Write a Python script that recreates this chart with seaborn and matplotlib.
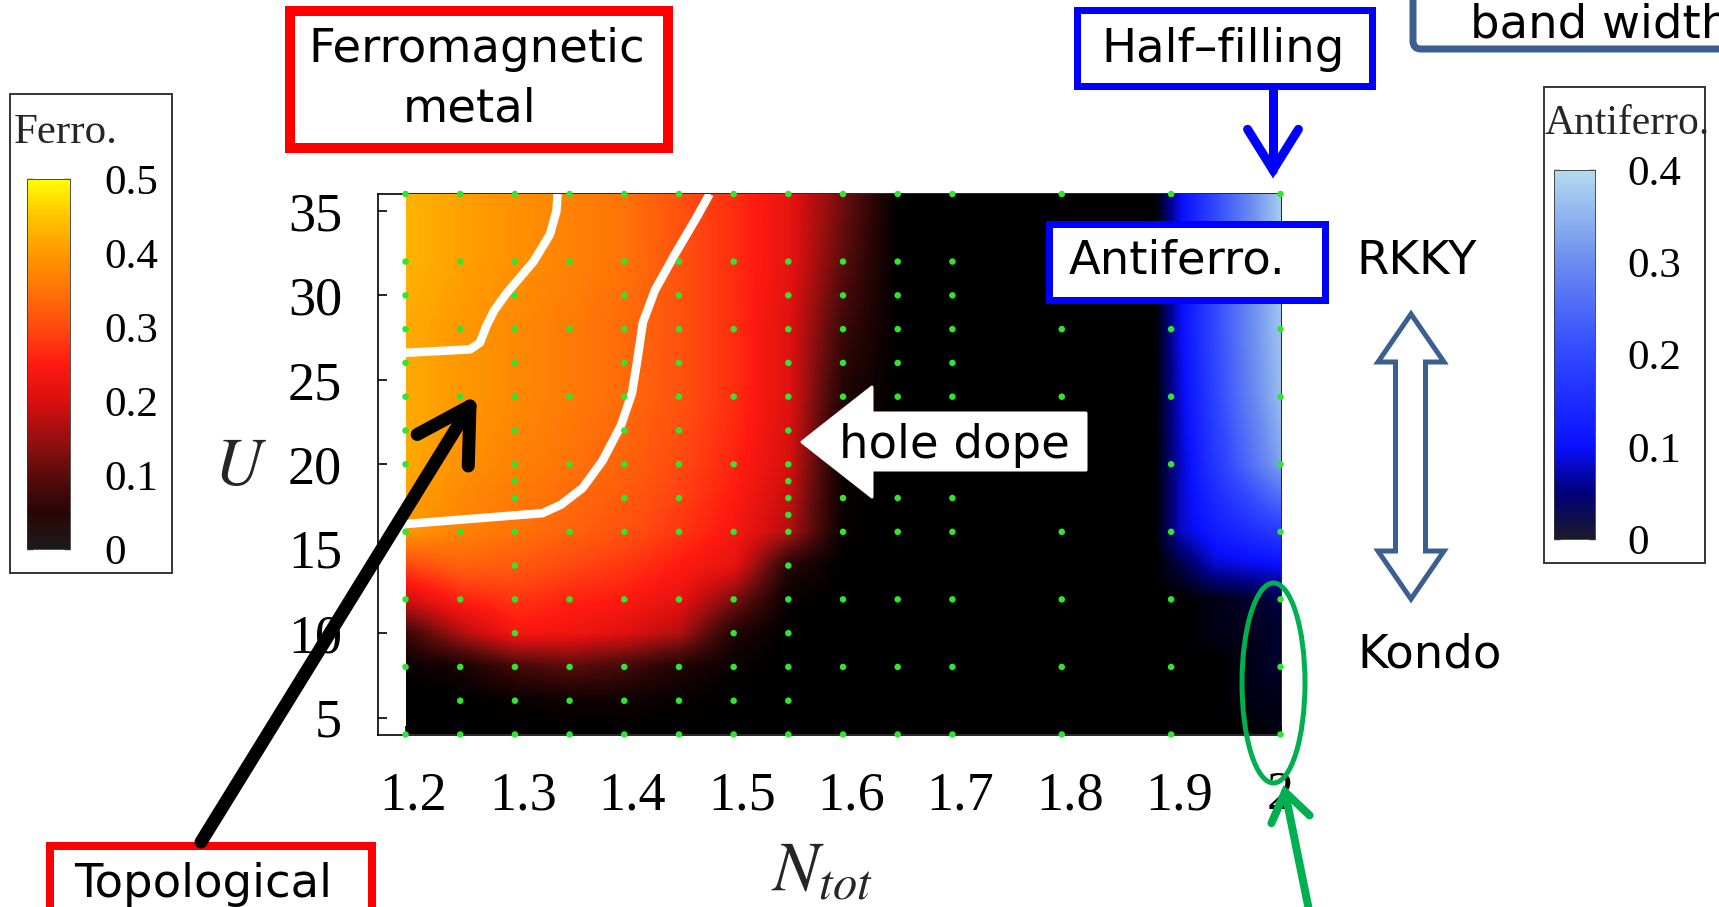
import numpy as np
import pandas as pd
import matplotlib
matplotlib.use("Agg")
import matplotlib.pyplot as plt
import matplotlib.transforms as mtransforms
from matplotlib.colors import LinearSegmentedColormap, Normalize
from matplotlib.cm import ScalarMappable
from matplotlib.patches import Rectangle, Polygon, Ellipse, FancyBboxPatch
from matplotlib.lines import Line2D
import seaborn as sns

# ---------------- phase-diagram data ----------------
# ferromagnetic moment on an (N_tot, U) table
n_ferro = [1.2, 1.25, 1.3, 1.35, 1.4, 1.45, 1.5, 1.55, 1.6, 1.65]
u_levels = [4, 6, 8, 10, 12, 14, 16, 20, 24, 28, 32, 36]
ferro_moment = [
    [0.00, 0.00, 0.00, 0.00, 0.00, 0.00, 0.00, 0.00, 0.00, 0.0],   # U=4
    [0.00, 0.00, 0.01, 0.02, 0.02, 0.01, 0.00, 0.00, 0.00, 0.0],   # U=6
    [0.01, 0.03, 0.08, 0.10, 0.08, 0.04, 0.01, 0.00, 0.00, 0.0],   # U=8
    [0.07, 0.17, 0.24, 0.23, 0.21, 0.17, 0.04, 0.00, 0.00, 0.0],   # U=10
    [0.20, 0.26, 0.28, 0.26, 0.25, 0.22, 0.13, 0.01, 0.00, 0.0],   # U=12
    [0.30, 0.33, 0.32, 0.30, 0.28, 0.25, 0.22, 0.05, 0.00, 0.0],   # U=14
    [0.40, 0.37, 0.35, 0.33, 0.31, 0.28, 0.24, 0.17, 0.01, 0.0],   # U=16
    [0.42, 0.39, 0.37, 0.35, 0.33, 0.30, 0.26, 0.20, 0.01, 0.0],   # U=20
    [0.42, 0.40, 0.38, 0.36, 0.34, 0.31, 0.27, 0.21, 0.04, 0.0],   # U=24
    [0.42, 0.40, 0.38, 0.36, 0.34, 0.31, 0.27, 0.21, 0.07, 0.0],   # U=28
    [0.43, 0.41, 0.39, 0.37, 0.35, 0.31, 0.27, 0.22, 0.10, 0.0],   # U=32
    [0.43, 0.41, 0.39, 0.37, 0.35, 0.31, 0.27, 0.22, 0.12, 0.0],   # U=36
]

# antiferromagnetic moment near half filling
n_antiferro = [1.885, 1.91, 1.94, 1.97, 2.0]
antiferro_moment = [
    [0.0, 0.00, 0.00, 0.00, 0.01],   # U=4
    [0.0, 0.00, 0.00, 0.01, 0.01],   # U=6
    [0.0, 0.00, 0.00, 0.01, 0.02],   # U=8
    [0.0, 0.00, 0.01, 0.01, 0.02],   # U=10
    [0.0, 0.00, 0.01, 0.02, 0.03],   # U=12
    [0.0, 0.03, 0.08, 0.09, 0.10],   # U=14
    [0.0, 0.08, 0.12, 0.15, 0.18],   # U=16
    [0.0, 0.08, 0.17, 0.25, 0.33],   # U=20
    [0.0, 0.09, 0.19, 0.28, 0.36],   # U=24
    [0.0, 0.10, 0.20, 0.29, 0.37],   # U=28
    [0.0, 0.10, 0.20, 0.29, 0.38],   # U=32
    [0.0, 0.10, 0.20, 0.29, 0.38],   # U=36
]

# computed parameter points
dot_columns = [1.2, 1.25, 1.3, 1.35, 1.4, 1.45, 1.5, 1.55, 1.6, 1.65, 1.7, 1.8, 1.9, 2.0]
dot_u = [
    [4, 8, 12, 16, 20, 22, 24, 26, 28, 30, 32, 36],
    [4, 6, 8, 12, 16, 24, 28, 32, 36],
    [4, 6, 8, 10, 12, 14, 16, 18, 19, 20, 22, 24, 26, 28, 30, 32, 36],
    [4, 6, 8, 12, 16, 20, 24, 28, 32, 36],
    [4, 6, 8, 12, 16, 18, 20, 22, 24, 26, 28, 30, 32, 36],
    [4, 6, 8, 12, 16, 18, 20, 22, 24, 26, 28, 30, 32, 36],
    [4, 6, 8, 10, 12, 16, 20, 24, 28, 32, 36],
    [4, 6, 8, 10, 12, 14, 16, 17, 18, 19, 20, 22, 24, 26, 28, 30, 32, 36],
    [4, 8, 12, 16, 18, 20, 24, 26, 28, 30, 32, 36],
    [4, 8, 12, 16, 18, 20, 24, 26, 28, 30, 32, 36],
    [4, 8, 12, 16, 18, 20, 24, 26, 28, 30, 32, 36],
    [4, 8, 12, 16, 20, 24, 28, 32, 36],
    [4, 8, 12, 16, 20, 24, 28, 32, 36],
    [4, 8, 12, 16, 20, 24, 28, 32, 36],
]

# topological phase boundaries
inner_n = [1.2, 1.259, 1.268, 1.274, 1.281, 1.292, 1.317, 1.332, 1.338, 1.339]
inner_u = [26.6, 26.8, 27.2, 28.2, 29.1, 30.1, 32.0, 33.6, 35.0, 36.0]
outer_n = [1.2, 1.305, 1.325, 1.342, 1.362, 1.380, 1.397, 1.407, 1.412, 1.417, 1.428, 1.446, 1.466, 1.478]
outer_u = [16.46, 17.0, 17.1, 17.6, 18.6, 20.2, 22.3, 24.2, 26.2, 28.4, 30.3, 32.4, 34.6, 36.0]

x_ticks = [1.2, 1.3, 1.4, 1.5, 1.6, 1.7, 1.8, 1.9, 2.0]
x_tick_labels = ["1.2", "1.3", "1.4", "1.5", "1.6", "1.7", "1.8", "1.9", "2"]
y_ticks = [5, 10, 15, 20, 25, 30, 35]
y_tick_labels = ["5", "10", "15", "20", "25", "30", "35"]
ferro_ticks = [0, 0.1, 0.2, 0.3, 0.4, 0.5]
ferro_tick_labels = ["0", "0.1", "0.2", "0.3", "0.4", "0.5"]
af_ticks = [0, 0.1, 0.2, 0.3, 0.4]
af_tick_labels = ["0", "0.1", "0.2", "0.3", "0.4"]

# ---------------- styling ----------------
W, H = 1719, 907
sns.set_theme(style="white")
plt.rcParams["font.family"] = ["DejaVu Sans"]
plt.rcParams["mathtext.fontset"] = "stix"
plt.rcParams["axes.edgecolor"] = "black"
plt.rcParams["axes.linewidth"] = 1.2

SERIF = "Liberation Serif"
PT = 72.0 / 100.0          # points per pixel at dpi 100
BOX_FS = 46.5 * PT

fig = plt.figure(figsize=(W / 100, H / 100), dpi=100)
fig.patch.set_facecolor("white")
# pixel coordinates measured from the top-left corner of the figure
PX = mtransforms.Affine2D().scale(1.0 / W, -1.0 / H).translate(0, 1) + fig.transFigure


def make_cmap(name, stops, base):
    cols = [(0.0, base)] + stops
    return LinearSegmentedColormap.from_list(name, cols)


ferro_stops = [(0.1, "#2a0505"), (0.2, "#5a0c0c"), (0.3, "#9a0f0f"), (0.4, "#d81010"),
               (0.5, "#ff1a10"), (0.6, "#ff4a10"), (0.7, "#ff7308"), (0.8, "#ff9800"),
               (0.9, "#ffc400"), (1.0, "#ffff00")]
af_stops = [(0.125, "#00007a"), (0.25, "#0a10ff"), (0.5, "#3048ff"),
            (0.75, "#6a8cf0"), (1.0, "#b4daee")]
cmap_ferro = make_cmap("ferro", ferro_stops, "#000000")
cmap_af = make_cmap("antiferro", af_stops, "#000000")
cmap_ferro_bar = make_cmap("ferro_bar", ferro_stops, "#1e1a1a")
cmap_af_bar = make_cmap("af_bar", af_stops, "#1a1a2a")
norm_ferro = Normalize(0, 0.5)
norm_af = Normalize(0, 0.4)

# ---------------- smooth surface ----------------
xf = np.linspace(1.2, 2.0, 801)
uf = np.linspace(4, 36, 641)


def surface(xs, table):
    t = np.asarray(table, dtype=float)
    rows = np.array([np.interp(xf, xs, r) for r in t])
    return np.array([np.interp(uf, u_levels, rows[:, j]) for j in range(len(xf))]).T


F = surface(n_ferro, ferro_moment)
A = surface(n_antiferro, antiferro_moment)
rgb = cmap_ferro(norm_ferro(F))[..., :3] + cmap_af(norm_af(A))[..., :3]
rgb = np.clip(rgb, 0, 1)

ax = fig.add_axes([378.2 / W, (H - 734.5) / H, (1280.5 - 378.2) / W, (734.5 - 194.0) / H])
ax.set_facecolor("white")
ax.imshow(rgb, extent=(1.2, 2.0, 4, 36), origin="lower", aspect="auto",
          interpolation="bilinear", zorder=3)

ax.plot(inner_n, inner_u, color="white", lw=8.5 * PT, zorder=4,
        solid_capstyle="butt", solid_joinstyle="round")
ax.plot(outer_n, outer_u, color="white", lw=8.5 * PT, zorder=4,
        solid_capstyle="butt", solid_joinstyle="round")

dots = pd.DataFrame(
    [(n, u) for n, us in zip(dot_columns, dot_u) for u in us], columns=["N_tot", "U"]
)
sns.scatterplot(data=dots, x="N_tot", y="U", ax=ax, color="#2fe52f", s=22,
                edgecolor="none", linewidth=0, zorder=5, clip_on=False, legend=False)

ax.set_xlim(1.175, 2.0)
ax.set_ylim(4, 36)
ax.set_xlabel("")
ax.set_ylabel("")
ax.set_xticks(x_ticks)
ax.set_xticklabels(x_tick_labels)
ax.set_yticks(y_ticks)
ax.set_yticklabels(y_tick_labels)
ax.tick_params(direction="in", length=9 * PT, width=1.2, colors="black", pad=26,
               labelsize=39, labelfontfamily=SERIF, left=True, bottom=True)
for sp in ax.spines.values():
    sp.set_visible(True)
    sp.set_color("black")
    sp.set_linewidth(1.2)
shift = mtransforms.ScaledTranslation(0.08, 0, fig.dpi_scale_trans)
for lab in ax.get_xticklabels()[:-1]:
    lab.set_transform(lab.get_transform() + shift)

fig.text(240, 466, "$U$", transform=PX, fontsize=48, ha="center", va="center")
fig.text(771, 890, "$N_{tot}$", transform=PX, fontsize=50, ha="left", va="baseline")

# ---------------- colour bars ----------------
def colorbar_box(box, strip, cmap, norm, ticks, labels, title, title_xy, title_fs, pad):
    x0, y0, x1, y1 = box
    fig.add_artist(Rectangle((x0, y0), x1 - x0, y1 - y0, transform=PX, fc="white",
                             ec="#3a3a3a", lw=2 * PT, zorder=0.5))
    sx0, sy0, sx1, sy1 = strip
    cax = fig.add_axes([sx0 / W, (H - sy1) / H, (sx1 - sx0) / W, (sy1 - sy0) / H])
    cax.set_zorder(1.5)
    cb = fig.colorbar(ScalarMappable(norm=norm, cmap=cmap), cax=cax)
    cb.set_ticks(ticks, labels=labels)
    cb.outline.set_linewidth(0.6)
    cb.outline.set_edgecolor("#333333")
    cax.tick_params(axis="y", direction="in", left=True, right=True, length=6 * PT,
                    width=1.0, color="#222222", labelleft=False, labelright=True,
                    labelsize=31, pad=pad, labelfontfamily=SERIF, labelcolor="black")
    fig.text(title_xy[0], title_xy[1], title, transform=PX, fontsize=title_fs,
             family=SERIF, ha="left", va="baseline", zorder=6)


colorbar_box((10, 94, 172, 573), (27, 179, 70, 549), cmap_ferro_bar, norm_ferro,
             ferro_ticks, ferro_tick_labels, "Ferro.", (14, 143), 31, 25)
colorbar_box((1544, 87, 1705, 563), (1554, 170, 1595, 539), cmap_af_bar, norm_af,
             af_ticks, af_tick_labels, "Antiferro.", (1545, 134), 30, 23.5)

# ---------------- annotations ----------------
def framed(x0, y0, x1, y1, color, lw_px):
    fig.add_artist(Rectangle((x0, y0), x1 - x0, y1 - y0, transform=PX, fc="white",
                             ec=color, lw=lw_px * PT, zorder=2, joinstyle="miter"))


def label(x, y, s, ha="center", size=BOX_FS):
    fig.text(x, y, s, transform=PX, fontsize=size, ha=ha, va="baseline",
             color="black", zorder=6)


def line_arrow(tail, tip, wing, ang_deg, color, lw_px, join="miter"):
    tail = np.asarray(tail, float)
    tip = np.asarray(tip, float)
    back = (tail - tip) / np.hypot(*(tail - tip))
    ends = []
    for s in (1, -1):
        a = np.radians(s * ang_deg)
        rot = np.array([[np.cos(a), -np.sin(a)], [np.sin(a), np.cos(a)]])
        ends.append(tip + wing * rot @ back)
    fig.add_artist(Line2D([tail[0], tip[0]], [tail[1], tip[1]], transform=PX,
                          color=color, lw=lw_px * PT, solid_capstyle="round", zorder=4))
    fig.add_artist(Line2D([ends[0][0], tip[0], ends[1][0]], [ends[0][1], tip[1], ends[1][1]],
                          transform=PX, color=color, lw=lw_px * PT,
                          solid_capstyle="round", solid_joinstyle=join, zorder=4))


# Ferromagnetic metal
framed(290, 11, 668, 148, "#ff0000", 10)
label(477, 62, "Ferromagnetic")
label(470, 122, "metal")

# Half-filling with its arrow
framed(1076.5, 9.5, 1371.5, 85.5, "#0000ff", 7)
label(1223, 62, "Half\u2013filling")
line_arrow((1273, 89), (1273, 170), 48, 32, "#0000ff", 9)

# band width (runs off the figure edge)
fig.add_artist(FancyBboxPatch((1413, -40), 420, 89, boxstyle="round,pad=0,rounding_size=8",
                              transform=PX, fc="white", ec="#3b5f8e", lw=7 * PT, zorder=2))
label(1470, 37, "band width", ha="left")

# Antiferro. label on the plot
framed(1048.5, 223.5, 1324.5, 299.5, "#0000ff", 7)
label(1177, 273, "Antiferro.")
label(1356, 274, "RKKY", ha="left")
label(1357, 667, "Kondo", ha="left")

# RKKY <-> Kondo block double arrow
dbl = [(1411, 314), (1444, 362), (1425.5, 362), (1425.5, 551), (1444, 551),
       (1411, 599), (1378, 551), (1395.5, 551), (1395.5, 362), (1378, 362)]
fig.add_artist(Polygon(dbl, closed=True, transform=PX, fc="white", ec="#3b5f8e",
                       lw=5 * PT, joinstyle="miter", zorder=2))

# hole dope block arrow
hole = [(802, 442), (872, 387), (872, 413), (1086, 413), (1086, 470), (872, 470), (872, 497)]
fig.add_artist(Polygon(hole, closed=True, transform=PX, fc="white", ec="white",
                       lw=3 * PT, joinstyle="round", zorder=2))
label(954.5, 458, "hole dope")

# Kondo side marker
fig.add_artist(Ellipse((1273.5, 683), 63, 200, transform=PX, fc="none", ec="#00b050",
                       lw=5 * PT, zorder=4))
line_arrow((1313, 930), (1285, 792), 34, 35, "#00b050", 8)

# Topological region
framed(50, 846, 372, 960, "#ff0000", 8)
label(203, 897, "Topological")
line_arrow((201, 842), (470, 406), 60, 30, "black", 13, join="round")

fig.savefig("out.png", dpi=100, facecolor="white")
